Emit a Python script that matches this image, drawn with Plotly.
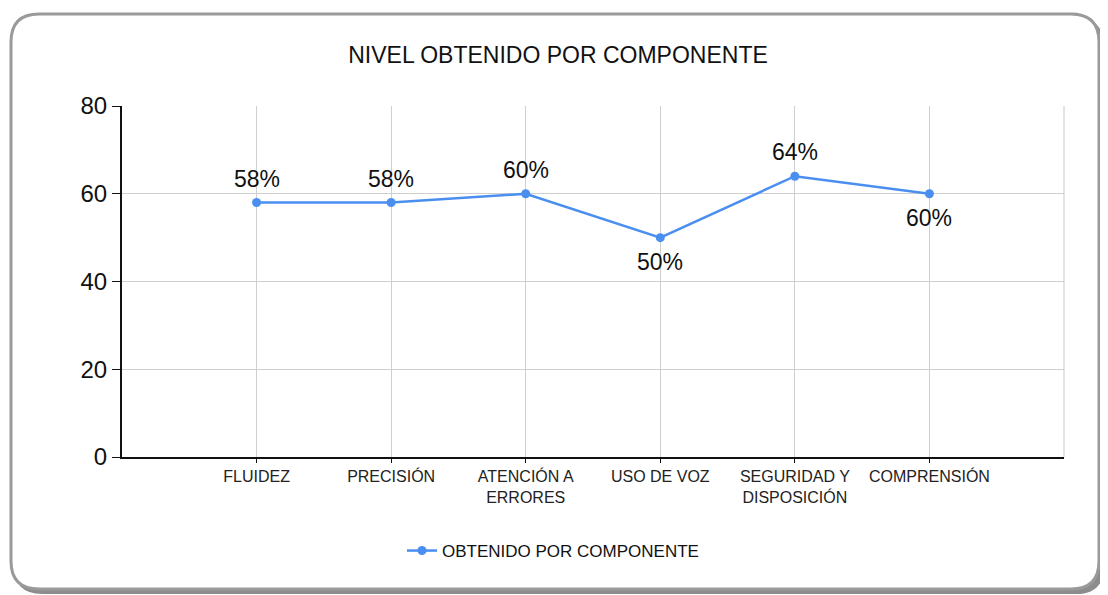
import plotly.graph_objects as go

# datos del gráfico
componentes = ["FLUIDEZ", "PRECISIÓN", "ATENCIÓN A<br>ERRORES", "USO DE VOZ",
               "SEGURIDAD Y<br>DISPOSICIÓN", "COMPRENSIÓN"]
obtenido = [58, 58, 60, 50, 64, 60]
etiquetas = ["58%", "58%", "60%", "50%", "64%", "60%"]
arriba = [True, True, True, False, True, False]  # etiqueta encima o debajo del punto
y_ticks = [0, 20, 40, 60, 80]

# la página añade ~8px de margen, así que todo va desplazado 8px
OFF = 8
W, H = 1100, 587
ML, MR, MT, MB = 122 - OFF, 44, 106 - OFF, 138
PW, PH = W - ML - MR, H - MT - MB


def px(x):
    return (x - OFF - ML) / PW


def py(y):
    return (H - MB - (y - OFF)) / PH


def rounded_rect(x0, y0, x1, y1, r):
    """Ruta SVG en coordenadas paper para un rectángulo redondeado (pixeles de la página)"""
    pts = [
        f"M {px(x0 + r)},{py(y0)}",
        f"L {px(x1 - r)},{py(y0)}",
        f"Q {px(x1)},{py(y0)} {px(x1)},{py(y0 + r)}",
        f"L {px(x1)},{py(y1 - r)}",
        f"Q {px(x1)},{py(y1)} {px(x1 - r)},{py(y1)}",
        f"L {px(x0 + r)},{py(y1)}",
        f"Q {px(x0)},{py(y1)} {px(x0)},{py(y1 - r)}",
        f"L {px(x0)},{py(y0 + r)}",
        f"Q {px(x0)},{py(y0)} {px(x0 + r)},{py(y0)}",
        "Z",
    ]
    return " ".join(pts)


fig = go.Figure()

fig.add_trace(go.Scatter(
    x=list(range(len(componentes))),
    y=obtenido,
    mode="lines+markers",
    line=dict(color="#4a8ff0", width=2.5),
    marker=dict(color="#4a8ff0", size=9),
    name="OBTENIDO POR COMPONENTE",
    cliponaxis=False,
))

# etiquetas de valor
for i, (v, t, up) in enumerate(zip(obtenido, etiquetas, arriba)):
    fig.add_annotation(x=i, y=v, text=t, showarrow=False,
                       yshift=24 if up else -24, yanchor="middle",
                       font=dict(size=23, color="#111"))

# tarjeta: sombra + borde redondeado
fig.add_shape(type="path", xref="paper", yref="paper", layer="below",
              path=rounded_rect(14, 18, 1104, 594, 28),
              fillcolor="#8c8c8c", line=dict(width=0))
fig.add_shape(type="path", xref="paper", yref="paper", layer="below",
              path=rounded_rect(11, 14, 1099, 589, 28),
              fillcolor="white", line=dict(color="#9a9a9a", width=3))
# borde derecho del área
fig.add_shape(type="line", xref="paper", yref="paper", x0=1, x1=1, y0=0, y1=1,
              line=dict(color="#c8c8c8", width=1))

fig.update_layout(
    width=W, height=H,
    margin=dict(l=ML, r=MR, t=MT, b=MB),
    paper_bgcolor="white",
    plot_bgcolor="white",
    font=dict(family="Liberation Sans, Arial, sans-serif", color="#111"),
    title=dict(text="NIVEL OBTENIDO POR COMPONENTE", x=px(558), xref="paper",
               xanchor="center", y=1 - (55 - OFF) / H, yanchor="middle",
               font=dict(size=23, color="#111")),
    showlegend=True,
    legend=dict(orientation="h", x=px(553), xanchor="center", y=py(551), yanchor="middle",
                font=dict(size=17, color="#111")),
)

fig.update_xaxes(
    range=[-1, len(componentes)],
    tickmode="array",
    tickvals=list(range(len(componentes))),
    ticktext=componentes,
    tickfont=dict(size=16, color="#222"),
    ticks="outside", ticklen=4, tickcolor="#111",
    showgrid=True, gridcolor="#cfcfcf", gridwidth=1,
    showline=True, linecolor="#111", linewidth=2,
    zeroline=False,
)
fig.update_yaxes(
    range=[0, 80],
    tickvals=y_ticks,
    tickfont=dict(size=24, color="#111"),
    ticks="outside", ticklen=8, tickcolor="#111",
    showgrid=True, gridcolor="#cfcfcf", gridwidth=1,
    showline=True, linecolor="#111", linewidth=2,
    zeroline=False,
)

fig.write_html("out.html")
